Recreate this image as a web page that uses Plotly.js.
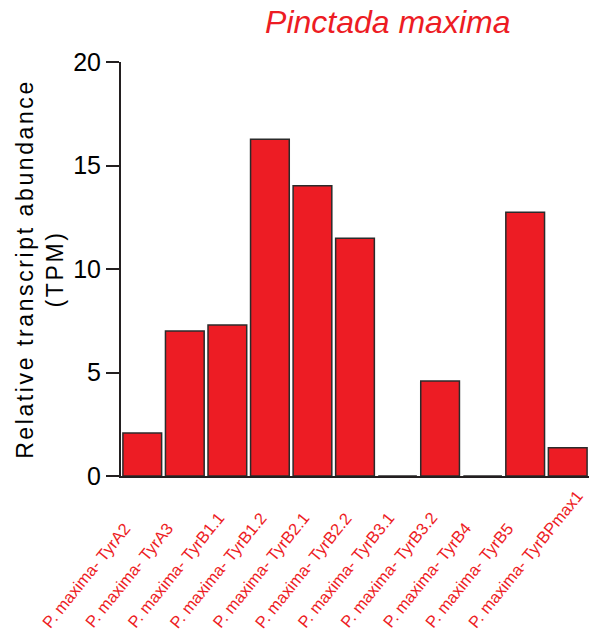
<!DOCTYPE html>
<html>
<head>
<meta charset="utf-8">
<script src="https://cdn.plot.ly/plotly-3.0.1.min.js"></script>
<style>
html,body{margin:0;padding:0;background:#fff;}
#chart{width:590px;height:635px;}
#chart .g-ytitle text{letter-spacing:2.6px;}
</style>
</head>
<body>
<div id="chart"></div>
<script>
var categories = ["P. maxima- TyrA2","P. maxima- TyrA3","P. maxima- TyrB1.1","P. maxima- TyrB1.2","P. maxima- TyrB2.1","P. maxima- TyrB2.2","P. maxima- TyrB3.1","P. maxima- TyrB3.2","P. maxima- TyrB4","P. maxima- TyrB5","P. maxima- TyrBPmax1"];
var tpm = [2.08, 7.0, 7.3, 16.27, 14.02, 11.48, 0, 4.59, 0, 12.74, 1.37];
var yTicks = [0, 5, 10, 15, 20];

var trace = {
  type: 'bar',
  x: categories,
  y: tpm,
  marker: {color: '#ED1C24', line: {color: '#2b2b2b', width: 1.5}},
  hoverinfo: 'skip'
};

// Rotated category labels, aligned at their start (as in the reference)
var labelAnnotations = categories.map(function (c) {
  return {
    x: c, xref: 'x',
    y: 0, yref: 'paper',
    text: c,
    showarrow: false,
    textangle: -51,
    xanchor: 'left', yanchor: 'bottom',
    xshift: -106, yshift: -158,
    font: {size: 16.5, color: '#ED1C24', family: 'Liberation Sans, Arial, sans-serif'}
  };
});

var layout = {
  width: 590, height: 635,
  margin: {l: 121, r: 1, t: 62, b: 159},
  paper_bgcolor: '#fff', plot_bgcolor: '#fff',
  bargap: 0.09,
  showlegend: false,
  font: {family: 'Liberation Sans, Arial, sans-serif', color: '#000'},
  title: {
    text: '<i>Pinctada maxima</i>',
    font: {family: 'Liberation Sans, Arial, sans-serif', size: 32, color: '#ED1C24'},
    xref: 'paper', x: 0.57, xanchor: 'center',
    yref: 'container', y: 0.965, yanchor: 'middle'
  },
  xaxis: {
    type: 'category',
    categoryarray: categories,
    autorange: false,
    range: [-0.5, categories.length - 0.5],
    showline: true, linecolor: '#231F20', linewidth: 2,
    ticks: '', showgrid: false, zeroline: false,
    showticklabels: false,
    fixedrange: true
  },
  yaxis: {
    range: [0, 20],
    tickvals: yTicks,
    ticktext: yTicks.map(String),
    showline: true, linecolor: '#231F20', linewidth: 2,
    ticks: 'outside', ticklen: 13, tickwidth: 2, tickcolor: '#231F20',
    showgrid: false, zeroline: false,
    tickfont: {size: 25, color: '#000'},
    title: {text: 'Relative transcript abundance<br>(TPM)', font: {size: 23, color: '#000'}, standoff: 3},
    fixedrange: true
  },
  annotations: labelAnnotations
};

Plotly.newPlot('chart', [trace], layout, {displayModeBar: false, staticPlot: true});
</script>
</body>
</html>
